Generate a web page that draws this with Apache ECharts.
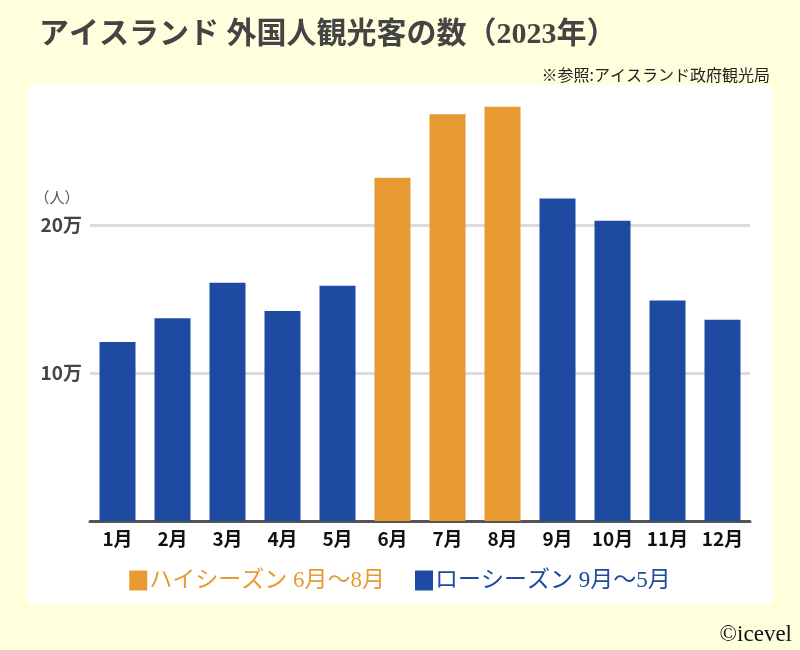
<!DOCTYPE html>
<html>
<head>
<meta charset="utf-8">
<script src="https://cdn.jsdelivr.net/npm/echarts@6/dist/echarts.min.js"></script>
<style>
html,body{margin:0;padding:0;background:#FFFFDD;}
#chart{width:800px;height:650px;}
</style>
</head>
<body>
<div id="chart"></div>
<script>
var months = ['1月','2月','3月','4月','5月','6月','7月','8月','9月','10月','11月','12月'];
var visitors = [121000, 137000, 161000, 142000, 159000, 232000, 275000, 280000, 218000, 203000, 149000, 136000];
var highMonths = ['6月','7月','8月'];
var highName = 'ハイシーズン 6月〜8月';
var lowName = 'ローシーズン 9月〜5月';
var yTicks = {100000: '10万', 200000: '20万'};

var highData = visitors.map(function (v, i) { return highMonths.indexOf(months[i]) >= 0 ? v : '-'; });
var lowData = visitors.map(function (v, i) { return highMonths.indexOf(months[i]) >= 0 ? '-' : v; });

var ORANGE = '#E89A32', BLUE = '#1E4AA2';
var SERIF = "'Liberation Serif','Noto Sans CJK JP',serif";
var SANS = "'Noto Sans CJK JP','Noto Sans',sans-serif";

var chart = echarts.init(document.getElementById('chart'));
chart.setOption({
  backgroundColor: '#FFFFDD',
  animation: false,
  title: {
    text: 'アイスランド 外国人観光客の数（2023年）',
    left: 34, top: 15,
    textStyle: { fontSize: 30, fontWeight: 'bold', color: '#444', fontFamily: SERIF }
  },
  graphic: [
    { type: 'rect', z: -10, shape: { x: 28, y: 85, width: 744, height: 519 }, style: { fill: '#ffffff' } },
    { type: 'text', z: 10, x: 770, y: 75, style: { text: '※参照:アイスランド政府観光局', fontSize: 16, fill: '#222', fontFamily: SANS, textAlign: 'right', textVerticalAlign: 'middle' } },
    { type: 'text', z: 10, x: 57, y: 197, style: { text: '（人）', fontSize: 15, fill: '#555', fontFamily: SANS, textAlign: 'center', textVerticalAlign: 'middle' } },
    { type: 'text', z: 10, x: 792, y: 635, style: { text: '©icevel', fontSize: 23, fill: '#111', fontFamily: SERIF, textAlign: 'right', textVerticalAlign: 'middle' } }
  ],
  legend: {
    top: 564, left: 'center',
    icon: 'rect', itemWidth: 18, itemHeight: 20, itemGap: 30,
    selectedMode: false,
    data: [
      { name: highName, textStyle: { color: ORANGE } },
      { name: lowName, textStyle: { color: BLUE } }
    ],
    textStyle: { fontSize: 23, fontFamily: SERIF, padding: [0, 0, 0, -3] }
  },
  grid: { left: 90, right: 50, top: 92, bottom: 129 },
  xAxis: {
    type: 'category',
    data: months,
    axisLine: { lineStyle: { color: '#555', width: 3 } },
    axisTick: { show: false },
    axisLabel: { interval: 0, margin: 8, fontSize: 19, fontWeight: 'bold', color: '#111', fontFamily: SANS }
  },
  yAxis: {
    type: 'value', min: 0, max: 290000, interval: 100000,
    axisLine: { show: false }, axisTick: { show: false },
    axisLabel: {
      margin: 8, fontSize: 19, fontWeight: 'bold', color: '#444', fontFamily: SANS,
      formatter: function (v) { return yTicks[v] || ''; }
    },
    splitLine: { lineStyle: { color: ['#dcdcdc', '#dcdcdc', '#dcdcdc', 'rgba(0,0,0,0)'], width: 3 } }
  },
  series: [
    { name: highName, type: 'bar', stack: 'all', barWidth: 36, data: highData, itemStyle: { color: ORANGE } },
    { name: lowName, type: 'bar', stack: 'all', barWidth: 36, data: lowData, itemStyle: { color: BLUE } }
  ]
});
</script>
</body>
</html>
